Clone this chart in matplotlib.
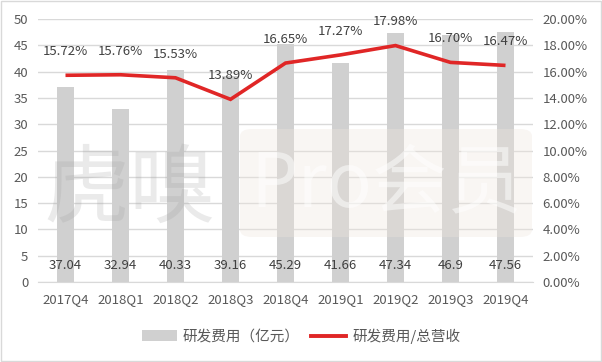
import matplotlib
matplotlib.use("Agg")
import matplotlib.pyplot as plt
from matplotlib.patches import FancyBboxPatch, Rectangle
from matplotlib.lines import Line2D
from matplotlib.patches import Patch

plt.rcParams['font.family'] = ['Noto Sans CJK SC', 'DejaVu Sans']

quarters = ["2017Q4", "2018Q1", "2018Q2", "2018Q3", "2018Q4",
            "2019Q1", "2019Q2", "2019Q3", "2019Q4"]
rd_cost = [37.04, 32.94, 40.33, 39.16, 45.29, 41.66, 47.34, 46.9, 47.56]
rd_ratio = [15.72, 15.76, 15.53, 13.89, 16.65, 17.27, 17.98, 16.70, 16.47]

bar_color = "#D0D0D0"
line_color = "#E02626"
text_color = "#404040"
tick_color = "#595959"
grid_color = "#D9D9D9"

fig = plt.figure(figsize=(6.02, 3.62), dpi=100)
fig.patches.append(Rectangle((0.002, 0.002), 0.996, 0.994, transform=fig.transFigure,
                             fill=False, edgecolor="#D9D9D9", linewidth=1.0))
W, H = 602, 362
ax = fig.add_axes([38 / W, 1 - 282 / H, 495 / W, 263 / H])
ax2 = ax.twinx()

fs = 9.5
x = list(range(len(quarters)))
ax.bar(x, rd_cost, width=0.31, color=bar_color, zorder=2)
ax.set_xlim(-0.5, len(quarters) - 0.5)
ax.set_ylim(0, 50)
ax.set_yticks(range(0, 51, 5))
ax.grid(axis='y', color=grid_color, linewidth=1.0, zorder=0)
ax.set_axisbelow(True)
for s in ax.spines.values():
    s.set_visible(False)
for s in ax2.spines.values():
    s.set_visible(False)
ax.spines['bottom'].set_visible(True)
ax.spines['bottom'].set_color(grid_color)
ax.tick_params(axis='both', length=0, labelsize=fs, colors=tick_color)
ax.tick_params(axis='y', pad=7)
ax.tick_params(axis='x', pad=8)
ax.set_xticks(x)
ax.set_xticklabels(quarters)

for xi, v in zip(x, rd_cost):
    ax.text(xi, 3.2, f"{v:g}", ha='center', va='center', fontsize=fs,
            color=text_color, zorder=5)

ax2.plot(x, rd_ratio, color=line_color, linewidth=2.6, zorder=4,
         solid_capstyle='butt', solid_joinstyle='miter')
ax2.set_ylim(0, 20)
ax2.set_yticks(range(0, 21, 2))
ax2.set_yticklabels([f"{t:.2f}%" for t in range(0, 21, 2)])
ax2.tick_params(axis='y', length=0, labelsize=fs, colors=tick_color, pad=7)
for xi, v in zip(x, rd_ratio):
    ax2.annotate(f"{v:.2f}%", (xi, v), xytext=(0, 17), textcoords='offset points',
                 ha='center', va='center', fontsize=fs, color=text_color, zorder=5)

# watermark
fig.text(130 / W, 1 - 192 / H, "虎嗅", fontsize=62, color="#A0A0A0", alpha=0.22,
         ha='center', va='center', zorder=1)
wm = FancyBboxPatch((240 / W, 1 - 237 / H), 292 / W, 108 / H,
                    boxstyle="round,pad=0,rounding_size=0.02", transform=fig.transFigure,
                    facecolor="#EFE6DE", edgecolor='none', alpha=0.35, zorder=1)
fig.patches.append(wm)
fig.text(386 / W, 1 - 185 / H, "Pro会员", fontsize=54, color="white", alpha=0.5,
         ha='center', va='center', zorder=1)

handles = [Patch(facecolor=bar_color, edgecolor='none'),
           Line2D([0], [0], color=line_color, linewidth=2.8)]
fig.legend(handles, ["研发费用（亿元）", "研发费用/总营收"], loc='center',
           bbox_to_anchor=(0.5, 1 - 336 / H), ncol=2, frameon=False, fontsize=10.5,
           labelcolor=tick_color, handlelength=2.4, handleheight=0.7,
           columnspacing=0.8, handletextpad=0.4)

fig.savefig("out.png", dpi=100)
